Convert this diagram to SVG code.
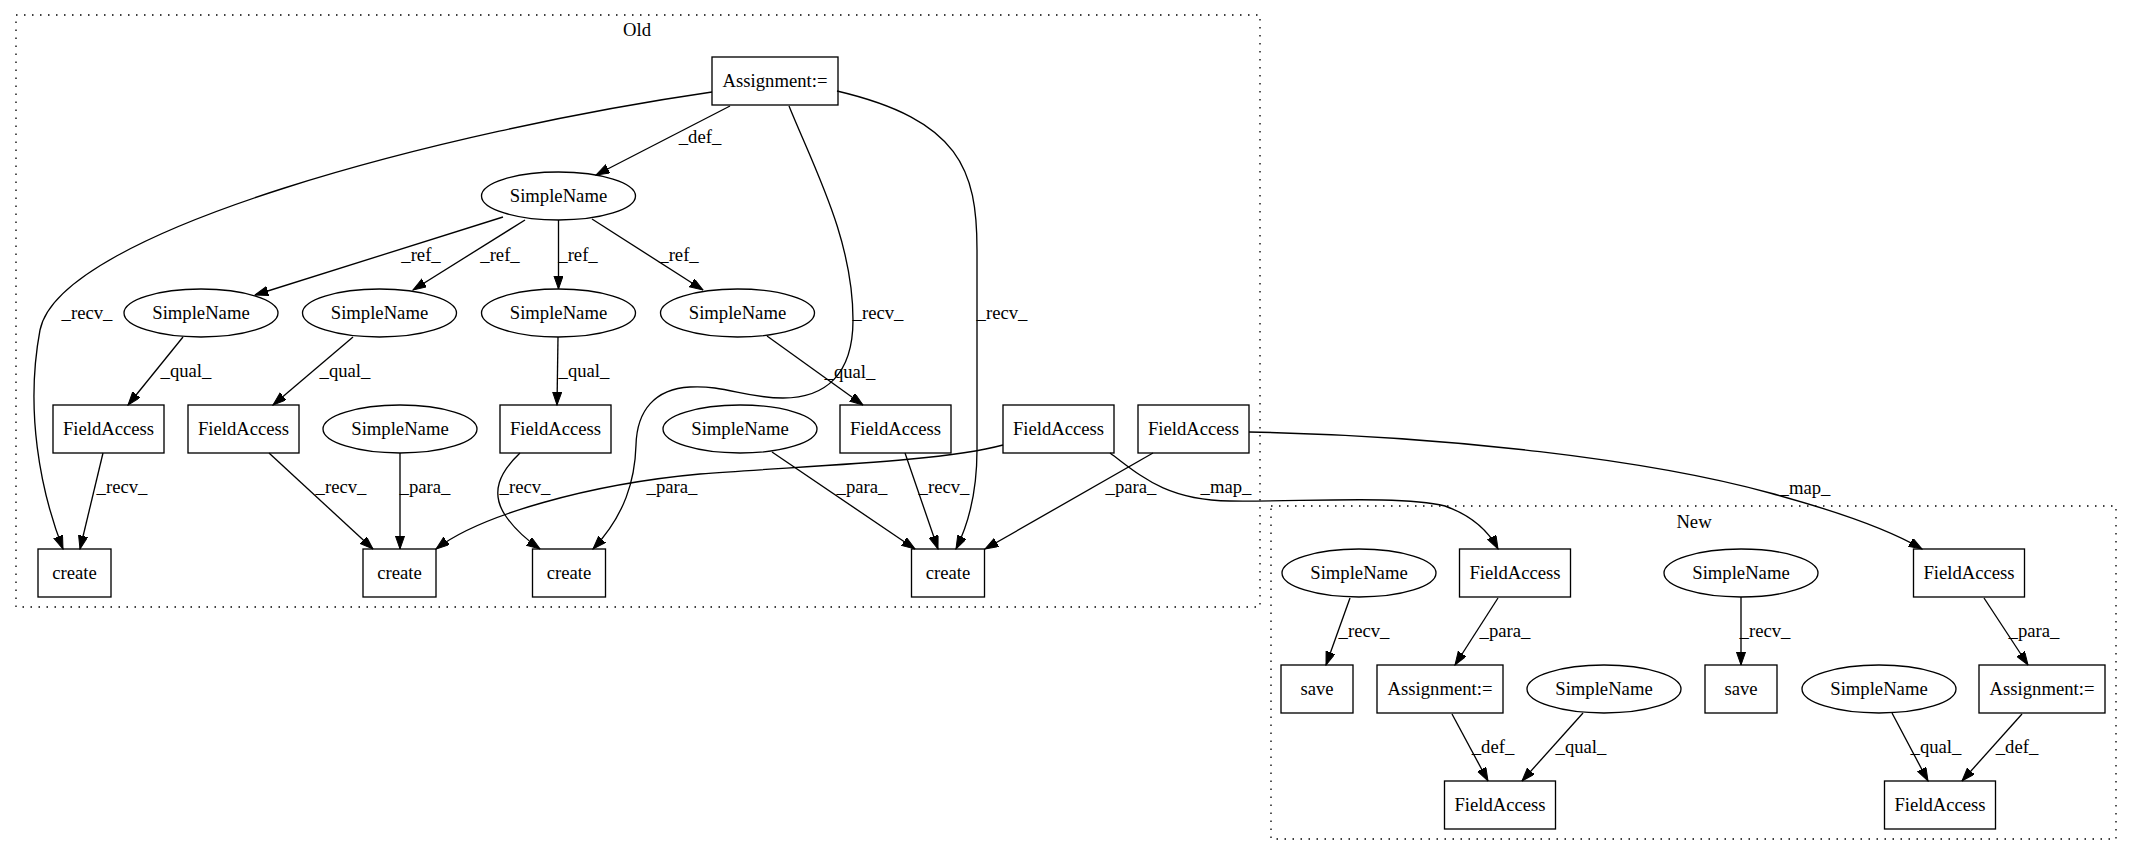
<svg xmlns="http://www.w3.org/2000/svg" width="2132" height="856" viewBox="0 0 2132 856">
<style>
text{font-family:"Liberation Serif","Times New Roman",serif;font-size:18.67px;fill:#000;text-anchor:middle}
.n rect,.n ellipse{fill:none;stroke:#000;stroke-width:1.33}
.c{fill:none;stroke:#000;stroke-width:1.33;stroke-dasharray:1.5,6.5}
.e path{fill:none;stroke:#000;stroke-width:1.33;marker-end:url(#ah)}
</style>
<defs>
<marker id="ah" markerUnits="userSpaceOnUse" markerWidth="14" markerHeight="10" refX="13.3" refY="4.67" orient="auto">
<path d="M0,0 L13.3,4.67 L0,9.33 z" fill="#000" stroke="#000" stroke-width="1"/>
</marker>
</defs>
<rect width="2132" height="856" fill="#fff"/>
<g id="clusters">
<rect class="c" x="16" y="15" width="1244" height="592"/>
<text x="637" y="36">Old</text>
<rect class="c" x="1271" y="506" width="845" height="333"/>
<text x="1694" y="528">New</text>
</g>
<g id="connectors" class="e">
<path d="M712,92 C450,130 60,230 40,330 C25,410 40,490 63,549"/>
<path d="M730,106 L596,175"/>
<path d="M789,106 C815,170 853,240 853,320 C853,375 825,398 783,398 C745,398 725,385 690,387 C655,389 637,410 636,445 C635,480 625,515 593,549"/>
<path d="M837,91 C960,120 977,170 977,250 L977,450 C977,495 968,525 956,549"/>
<path d="M503,217 L255,295"/>
<path d="M525,220 L413,290"/>
<path d="M558.5,220 L558.5,289"/>
<path d="M592,219 L703,290"/>
<path d="M183,337 L128,405"/>
<path d="M353,337 L273,405"/>
<path d="M558,337 L557,405"/>
<path d="M767,336 L863,405"/>
<path d="M103,453 L80,549"/>
<path d="M269,453 L373,549"/>
<path d="M400,453 L400,549"/>
<path d="M520,453 C500,472 490,492 505,515 C515,530 527,540 540,549"/>
<path d="M1003,445 C940,462 800,466 700,474 C590,484 480,515 436,549"/>
<path d="M772,452 L915,549"/>
<path d="M905,453 L938,549"/>
<path d="M1153,453 L985,549"/>
<path d="M1110,453 C1140,475 1165,500 1230,501 C1300,502 1400,495 1445,506 C1470,515 1488,530 1498,549"/>
<path d="M1249,432 C1450,436 1650,460 1770,493 C1840,512 1890,530 1922,549"/>
<path d="M1350,598 L1326,665"/>
<path d="M1498,598 L1455,665"/>
<path d="M1452,714 L1488,781"/>
<path d="M1583,713 L1522,781"/>
<path d="M1741,597 L1741,665"/>
<path d="M1984,598 L2028,665"/>
<path d="M1892,713 L1928,781"/>
<path d="M2022,714 L1962,781"/>
</g>
<g id="edge-labels">
<text x="87" y="319">_recv_</text>
<text x="700" y="143">_def_</text>
<text x="878" y="319">_recv_</text>
<text x="1002" y="319">_recv_</text>
<text x="421" y="261">_ref_</text>
<text x="500" y="261">_ref_</text>
<text x="578" y="261">_ref_</text>
<text x="679" y="261">_ref_</text>
<text x="186" y="377">_qual_</text>
<text x="345" y="377">_qual_</text>
<text x="584" y="377">_qual_</text>
<text x="850" y="378">_qual_</text>
<text x="122" y="493">_recv_</text>
<text x="341" y="493">_recv_</text>
<text x="425" y="493">_para_</text>
<text x="525" y="493">_recv_</text>
<text x="672" y="493">_para_</text>
<text x="862" y="493">_para_</text>
<text x="944" y="493">_recv_</text>
<text x="1131" y="493">_para_</text>
<text x="1226" y="493">_map_</text>
<text x="1805" y="494">_map_</text>
<text x="1364" y="637">_recv_</text>
<text x="1505" y="637">_para_</text>
<text x="1493" y="753">_def_</text>
<text x="1581" y="753">_qual_</text>
<text x="1765" y="637">_recv_</text>
<text x="2034" y="637">_para_</text>
<text x="1936" y="753">_qual_</text>
<text x="2017" y="753">_def_</text>
</g>
<g id="n1" class="n"><rect x="712" y="57" width="126" height="48"/><text x="775" y="87">Assignment:=</text></g>
<g id="n2" class="n"><ellipse cx="558.5" cy="196" rx="77" ry="24"/><text x="558.5" y="202">SimpleName</text></g>
<g id="n3" class="n"><ellipse cx="201" cy="313" rx="77" ry="24"/><text x="201" y="319">SimpleName</text></g>
<g id="n4" class="n"><ellipse cx="379.5" cy="313" rx="77" ry="24"/><text x="379.5" y="319">SimpleName</text></g>
<g id="n5" class="n"><ellipse cx="558.5" cy="313" rx="77" ry="24"/><text x="558.5" y="319">SimpleName</text></g>
<g id="n6" class="n"><ellipse cx="737.5" cy="313" rx="77" ry="24"/><text x="737.5" y="319">SimpleName</text></g>
<g id="n7" class="n"><rect x="53" y="405" width="111" height="48"/><text x="108.5" y="435">FieldAccess</text></g>
<g id="n8" class="n"><rect x="188" y="405" width="111" height="48"/><text x="243.5" y="435">FieldAccess</text></g>
<g id="n9" class="n"><ellipse cx="400" cy="429" rx="77" ry="24"/><text x="400" y="435">SimpleName</text></g>
<g id="n10" class="n"><rect x="500" y="405" width="111" height="48"/><text x="555.5" y="435">FieldAccess</text></g>
<g id="n11" class="n"><ellipse cx="740" cy="429" rx="77" ry="24"/><text x="740" y="435">SimpleName</text></g>
<g id="n12" class="n"><rect x="840" y="405" width="111" height="48"/><text x="895.5" y="435">FieldAccess</text></g>
<g id="n13" class="n"><rect x="1003" y="405" width="111" height="48"/><text x="1058.5" y="435">FieldAccess</text></g>
<g id="n14" class="n"><rect x="1138" y="405" width="111" height="48"/><text x="1193.5" y="435">FieldAccess</text></g>
<g id="n15" class="n"><rect x="38" y="549" width="73" height="48"/><text x="74.5" y="579">create</text></g>
<g id="n16" class="n"><rect x="363" y="549" width="73" height="48"/><text x="399.5" y="579">create</text></g>
<g id="n17" class="n"><rect x="532.5" y="549" width="73" height="48"/><text x="569" y="579">create</text></g>
<g id="n18" class="n"><rect x="911.5" y="549" width="73" height="48"/><text x="948" y="579">create</text></g>
<g id="n19" class="n"><ellipse cx="1359" cy="573" rx="77" ry="24"/><text x="1359" y="579">SimpleName</text></g>
<g id="n20" class="n"><rect x="1459.5" y="549" width="111" height="48"/><text x="1515" y="579">FieldAccess</text></g>
<g id="n21" class="n"><ellipse cx="1741" cy="573" rx="77" ry="24"/><text x="1741" y="579">SimpleName</text></g>
<g id="n22" class="n"><rect x="1913.5" y="549" width="111" height="48"/><text x="1969" y="579">FieldAccess</text></g>
<g id="n23" class="n"><rect x="1281" y="665" width="72" height="48"/><text x="1317" y="695">save</text></g>
<g id="n24" class="n"><rect x="1377" y="665" width="126" height="48"/><text x="1440" y="695">Assignment:=</text></g>
<g id="n25" class="n"><ellipse cx="1604" cy="689" rx="77" ry="24"/><text x="1604" y="695">SimpleName</text></g>
<g id="n26" class="n"><rect x="1705" y="665" width="72" height="48"/><text x="1741" y="695">save</text></g>
<g id="n27" class="n"><ellipse cx="1879" cy="689" rx="77" ry="24"/><text x="1879" y="695">SimpleName</text></g>
<g id="n28" class="n"><rect x="1979" y="665" width="126" height="48"/><text x="2042" y="695">Assignment:=</text></g>
<g id="n29" class="n"><rect x="1444.5" y="781" width="111" height="48"/><text x="1500" y="811">FieldAccess</text></g>
<g id="n30" class="n"><rect x="1884.5" y="781" width="111" height="48"/><text x="1940" y="811">FieldAccess</text></g>
</svg>
